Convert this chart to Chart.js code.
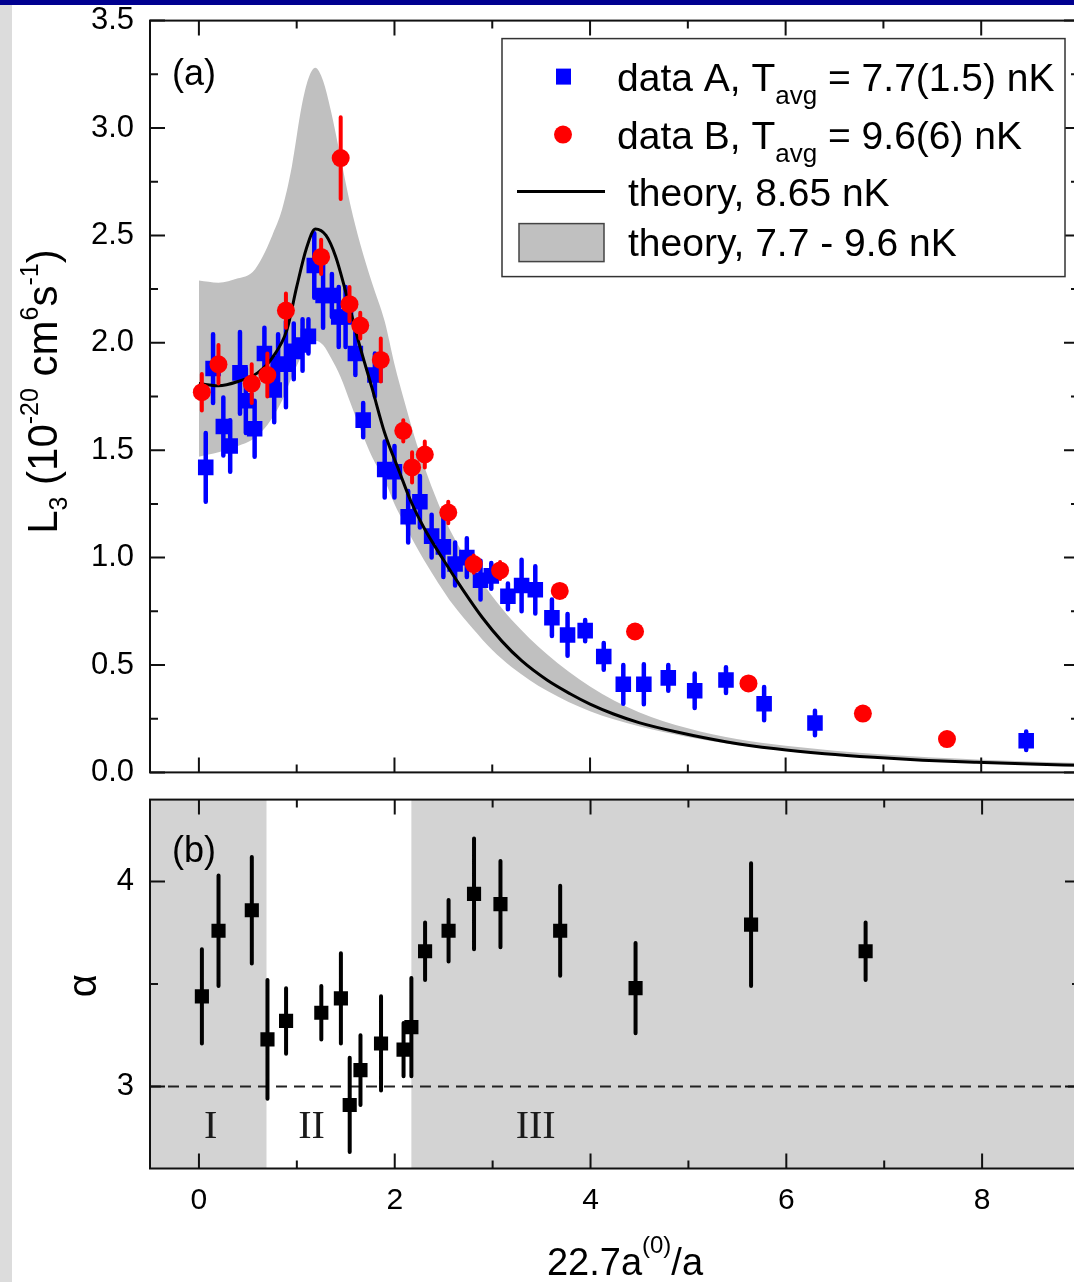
<!DOCTYPE html>
<html>
<head>
<meta charset="utf-8">
<script src="https://cdn.jsdelivr.net/npm/chart.js@4.4.1/dist/chart.umd.min.js"></script>
<style>
  html, body { margin: 0; padding: 0; background: #fff; width: 1074px; height: 1282px; overflow: hidden; }
  #sideBar { position: absolute; left: 0; top: 0; width: 12px; height: 1282px; background: #dcdcdc; }
  #topBar { position: absolute; left: 0; top: 0; width: 1074px; height: 5px; background: #000090; z-index: 2; }
  .box { position: absolute; left: 0; }
</style>
</head>
<body>
<div id="sideBar"></div>
<div id="topBar"></div>
<div class="box" style="top:-14px"><canvas id="l3Chart" width="1090" height="821"></canvas></div>
<div class="box" style="top:765px"><canvas id="alphaChart" width="1090" height="517"></canvas></div>
<script>
// ---- data ----
// panel (a): data A (blue squares)
const aX = [0.07, 0.145, 0.25, 0.32, 0.42, 0.48, 0.57, 0.67, 0.77, 0.81, 0.89, 0.97, 1.06, 1.12, 1.18, 1.27, 1.36, 1.43, 1.50, 1.60, 1.68, 1.80, 1.90, 2.00, 2.14, 2.26, 2.38, 2.50, 2.62, 2.74, 2.88, 2.99, 3.16, 3.30, 3.44, 3.61, 3.77, 3.95, 4.14, 4.34, 4.55, 4.80, 5.07, 5.39, 5.78, 6.30, 8.46];
const aY = [1.42, 1.88, 1.61, 1.52, 1.86, 1.73, 1.60, 1.95, 1.78, 1.90, 1.90, 1.96, 1.99, 2.03, 2.36, 2.22, 2.22, 2.12, 2.12, 1.95, 1.64, 1.85, 1.41, 1.40, 1.19, 1.26, 1.10, 1.05, 0.97, 1.00, 0.895, 0.915, 0.82, 0.87, 0.85, 0.72, 0.64, 0.66, 0.54, 0.41, 0.41, 0.44, 0.38, 0.43, 0.32, 0.23, 0.147];
const aErr = [0.16, 0.16, 0.135, 0.12, 0.19, 0.15, 0.13, 0.12, 0.15, 0.14, 0.2, 0.13, 0.12, 0.08, 0.15, 0.15, 0.1, 0.14, 0.14, 0.1, 0.08, 0.1, 0.13, 0.12, 0.12, 0.12, 0.10, 0.14, 0.10, 0.09, 0.09, 0.06, 0.06, 0.12, 0.11, 0.085, 0.097, 0.05, 0.062, 0.09, 0.093, 0.06, 0.08, 0.06, 0.077, 0.057, 0.043];
// panel (a): data B (red circles)
const bX = [0.03, 0.20, 0.54, 0.70, 0.89, 1.25, 1.45, 1.54, 1.65, 1.86, 2.09, 2.18, 2.31, 2.55, 2.81, 3.08, 3.69, 4.46, 5.62, 6.79, 7.65];
const bY = [1.77, 1.90, 1.81, 1.85, 2.15, 2.40, 2.86, 2.18, 2.08, 1.92, 1.59, 1.42, 1.48, 1.21, 0.97, 0.94, 0.845, 0.656, 0.414, 0.274, 0.155];
const bErr = [0.085, 0.09, 0.09, 0.10, 0.08, 0.08, 0.19, 0.08, 0.06, 0.10, 0.05, 0.07, 0.06, 0.05, 0.04, 0.04, 0.03, 0.03, 0.03, 0.03, 0.03];
// theory, 8.65 nK
const theoryX = [0.0, 0.2, 0.4, 0.6, 0.75, 0.9, 1.0, 1.1, 1.19, 1.3, 1.4, 1.5, 1.63, 1.77, 1.9, 2.05, 2.17, 2.3, 2.5, 2.7, 2.9, 3.1, 3.3, 3.56, 3.8, 4.0, 4.24, 4.5, 4.9, 5.4, 5.9, 6.4, 6.9, 7.4, 7.95, 8.5, 9.0];
const theoryY = [1.81, 1.80, 1.82, 1.86, 1.93, 2.06, 2.26, 2.44, 2.53, 2.50, 2.40, 2.24, 2.01, 1.79, 1.58, 1.40, 1.26, 1.14, 0.99, 0.85, 0.72, 0.61, 0.52, 0.43, 0.365, 0.318, 0.272, 0.232, 0.187, 0.142, 0.110, 0.087, 0.070, 0.057, 0.047, 0.039, 0.033];
// theory band, 7.7 - 9.6 nK
const bandX = [0, 0.2, 0.4, 0.55, 0.65, 0.75, 0.85, 0.95, 1.05, 1.12, 1.19, 1.27, 1.35, 1.45, 1.55, 1.65, 1.77, 1.9, 2.0, 2.1, 2.2, 2.3, 2.45, 2.6, 2.8, 3.0, 3.2, 3.56, 4.0, 4.5, 5.0, 5.5, 6.0, 7.0, 8.0, 9.0];
const bandUpper = [2.29, 2.28, 2.30, 2.33, 2.40, 2.50, 2.62, 2.82, 3.10, 3.23, 3.28, 3.22, 3.08, 2.86, 2.64, 2.46, 2.28, 2.10, 1.90, 1.73, 1.57, 1.43, 1.25, 1.10, 0.95, 0.82, 0.71, 0.55, 0.40, 0.28, 0.205, 0.155, 0.124, 0.083, 0.059, 0.044];
const bandLower = [1.47, 1.49, 1.52, 1.55, 1.59, 1.65, 1.73, 1.84, 1.94, 1.99, 2.01, 1.99, 1.93, 1.84, 1.72, 1.60, 1.47, 1.36, 1.25, 1.16, 1.07, 0.99, 0.88, 0.78, 0.67, 0.57, 0.49, 0.38, 0.285, 0.215, 0.165, 0.128, 0.102, 0.066, 0.046, 0.034];
// panel (b): exponent alpha
const alphaX = [0.03, 0.20, 0.54, 0.70, 0.89, 1.25, 1.45, 1.54, 1.65, 1.86, 2.09, 2.17, 2.31, 2.55, 2.81, 3.08, 3.69, 4.46, 5.64, 6.81];
const alphaY = [3.44, 3.76, 3.86, 3.23, 3.32, 3.36, 3.43, 2.91, 3.08, 3.21, 3.18, 3.29, 3.66, 3.76, 3.94, 3.89, 3.76, 3.48, 3.79, 3.66];
const alphaErr = [0.23, 0.27, 0.26, 0.29, 0.16, 0.13, 0.22, 0.23, 0.17, 0.23, 0.13, 0.24, 0.14, 0.15, 0.27, 0.21, 0.22, 0.22, 0.30, 0.14];
const alphaRef = 3;
const regionIEnd = 0.69;
const regionIIIStart = 2.17;
const regionLabels = ["I", "II", "III"];
const regionLabelX = [0.12, 1.15, 3.44];

// ticks
const xMajorTicks = [0, 2, 4, 6, 8];
const xMinorTicks = [1, 3, 5, 7];
const l3MajorTicks = [0, 0.5, 1.0, 1.5, 2.0, 2.5, 3.0, 3.5];
const l3MinorTicks = [0.25, 0.75, 1.25, 1.75, 2.25, 2.75, 3.25];
const alphaMajorTicks = [3, 4];
const alphaMinorTicks = [3.5];

const FONT = "'Liberation Sans', Arial, sans-serif";
const SERIF = "'Liberation Serif', 'Times New Roman', serif";

function pts(xs, ys) {
  return xs.map((x, i) => ({ x: x, y: ys[i] }));
}

// texto con sub/superíndices: [texto, tamaño, desplazamiento vertical]
function drawRich(ctx, parts, x, y, align) {
  let w = 0;
  parts.forEach((p) => {
    ctx.font = p[1] + "px " + FONT;
    w += ctx.measureText(p[0]).width;
  });
  let cx = align === "center" ? x - w / 2 : x;
  parts.forEach((p) => {
    ctx.font = p[1] + "px " + FONT;
    ctx.fillText(p[0], cx, y + (p[2] || 0));
    cx += ctx.measureText(p[0]).width;
  });
}

// marco con marcas hacia dentro en los cuatro lados
const framePlugin = {
  id: "frame",
  afterDatasetsDraw(chart, args, opts) {
    const { ctx, chartArea: a } = chart;
    const x = chart.scales.x, y = chart.scales.y;
    ctx.save();
    ctx.strokeStyle = "#111";
    ctx.lineWidth = 2;
    ctx.beginPath();
    const tx = (v, len) => {
      const px = x.getPixelForValue(v);
      ctx.moveTo(px, a.top); ctx.lineTo(px, a.top + len);
      ctx.moveTo(px, a.bottom); ctx.lineTo(px, a.bottom - len);
    };
    const ty = (v, len) => {
      const py = y.getPixelForValue(v);
      ctx.moveTo(a.left, py); ctx.lineTo(a.left + len, py);
      ctx.moveTo(a.right, py); ctx.lineTo(a.right - len, py);
    };
    opts.xMajor.forEach((v) => tx(v, 15));
    opts.xMinor.forEach((v) => tx(v, 8));
    opts.yMajor.forEach((v) => ty(v, 15));
    opts.yMinor.forEach((v) => ty(v, 8));
    ctx.stroke();
    ctx.strokeRect(a.left, a.top, a.right - a.left, a.bottom - a.top);
    ctx.restore();
  },
};

// barras de error verticales, antes de cada serie de puntos
const errorBarPlugin = {
  id: "errorBars",
  beforeDatasetDraw(chart, args) {
    const ds = chart.data.datasets[args.index];
    if (!ds.errors) return;
    const { ctx } = chart;
    const x = chart.scales.x, y = chart.scales.y;
    ctx.save();
    ctx.strokeStyle = ds.errColor;
    ctx.lineWidth = ds.errWidth;
    ctx.lineCap = "round";
    ctx.beginPath();
    ds.data.forEach((p, i) => {
      const px = x.getPixelForValue(p.x);
      ctx.moveTo(px, y.getPixelForValue(p.y - ds.errors[i]));
      ctx.lineTo(px, y.getPixelForValue(p.y + ds.errors[i]));
    });
    ctx.stroke();
    ctx.restore();
  },
};

// leyenda y rótulos del panel (a)
const l3TextPlugin = {
  id: "l3Text",
  afterDraw(chart) {
    const { ctx, chartArea: a } = chart;
    const oy = a.top - 19; // desplazamiento del lienzo respecto a la página
    ctx.save();
    ctx.fillStyle = "#000";
    ctx.textBaseline = "alphabetic";
    ctx.font = "36px " + FONT;
    ctx.fillText("(a)", a.left + 22, a.top + 64);

    // título del eje y
    ctx.save();
    ctx.translate(57, 390 + oy);
    ctx.rotate(-Math.PI / 2);
    drawRich(ctx, [["L", 42], ["3", 25, 10], [" (10", 42], ["-20", 25, -19], [" cm", 42], ["6", 25, -19], ["s", 42], ["-1", 25, -19], [")", 42]], 0, 0, "center");
    ctx.restore();

    // leyenda
    ctx.translate(0, oy);
    ctx.fillStyle = "#fff";
    ctx.fillRect(502, 37, 563, 238);
    ctx.strokeStyle = "#333";
    ctx.lineWidth = 1.5;
    ctx.strokeRect(502, 37, 563, 238);
    ctx.fillStyle = "#0000ff";
    ctx.fillRect(556, 67, 15, 16);
    ctx.fillStyle = "#ff0000";
    ctx.beginPath();
    ctx.arc(563, 133, 9, 0, Math.PI * 2);
    ctx.fill();
    ctx.strokeStyle = "#000";
    ctx.lineWidth = 3;
    ctx.beginPath();
    ctx.moveTo(517, 190); ctx.lineTo(605, 190);
    ctx.stroke();
    ctx.fillStyle = "#c0c0c0";
    ctx.fillRect(519, 222, 85, 38);
    ctx.strokeStyle = "#444";
    ctx.lineWidth = 1.5;
    ctx.strokeRect(519, 222, 85, 38);
    ctx.fillStyle = "#000";
    drawRich(ctx, [["data A, T", 39], ["avg", 26, 13], [" = 7.7(1.5) nK", 39]], 617, 89);
    drawRich(ctx, [["data B, T", 39], ["avg", 26, 13], [" = 9.6(6) nK", 39]], 617, 147);
    drawRich(ctx, [["theory, 8.65 nK", 39]], 628, 204);
    drawRich(ctx, [["theory, 7.7 - 9.6 nK", 39]], 628, 254);
    ctx.restore();
  },
};

// sombreado de regiones y línea de referencia del panel (b)
const alphaBackPlugin = {
  id: "alphaBack",
  beforeDatasetsDraw(chart) {
    const { ctx, chartArea: a } = chart;
    const x = chart.scales.x, y = chart.scales.y;
    ctx.save();
    ctx.fillStyle = "#d3d3d3";
    const x1 = x.getPixelForValue(regionIEnd);
    const x2 = x.getPixelForValue(regionIIIStart);
    ctx.fillRect(a.left, a.top, x1 - a.left, a.bottom - a.top);
    ctx.fillRect(x2, a.top, a.right - x2, a.bottom - a.top);
    const y3 = y.getPixelForValue(alphaRef);
    ctx.strokeStyle = "#222";
    ctx.lineWidth = 2;
    ctx.setLineDash([11, 7]);
    ctx.beginPath();
    ctx.moveTo(a.left, y3);
    ctx.lineTo(a.right, y3);
    ctx.stroke();
    ctx.setLineDash([]);
    ctx.fillStyle = "#1a1a1a";
    ctx.font = "40px " + SERIF;
    ctx.textAlign = "center";
    ctx.textBaseline = "middle";
    regionLabels.forEach((t, i) => {
      ctx.fillText(t, x.getPixelForValue(regionLabelX[i]), y.getPixelForValue(2.8));
    });
    ctx.restore();
  },
  afterDraw(chart) {
    const { ctx, chartArea: a } = chart;
    ctx.save();
    ctx.fillStyle = "#000";
    ctx.font = "36px " + FONT;
    ctx.textBaseline = "alphabetic";
    ctx.fillText("(b)", a.left + 22, a.top + 62);
    ctx.save();
    ctx.translate(85, a.top + 186);
    ctx.rotate(-Math.PI / 2);
    ctx.textAlign = "center";
    ctx.textBaseline = "middle";
    ctx.font = "40px " + FONT;
    ctx.fillText("α", 0, 0);
    ctx.restore();
    drawRich(ctx, [["22.7a", 38], ["(0)", 24, -22], ["/a", 38]], 625, a.bottom + 106, "center");
    ctx.restore();
  },
};

const commonY = (min, max, majors) => ({
  min: min,
  max: max,
  afterBuildTicks: (s) => { s.ticks = majors.map((v) => ({ value: v })); },
  ticks: { color: "#000", font: { family: FONT, size: 31 }, padding: 16 },
  grid: { display: false, drawTicks: false },
  border: { display: false },
  afterFit: (s) => { s.width = 150; },
});

// ---- panel (a) ----
new Chart(document.getElementById("l3Chart"), {
  type: "scatter",
  data: {
    datasets: [
      {
        type: "line", label: "band upper", data: pts(bandX, bandUpper),
        borderWidth: 0, pointRadius: 0, fill: "+1", backgroundColor: "#c0c0c0",
        cubicInterpolationMode: "monotone", order: 5,
      },
      {
        type: "line", label: "band lower", data: pts(bandX, bandLower),
        borderWidth: 0, pointRadius: 0, fill: false,
        cubicInterpolationMode: "monotone", order: 5,
      },
      {
        label: "data A", data: pts(aX, aY), pointStyle: "rect", pointRadius: 11,
        backgroundColor: "#0000ff", borderWidth: 0,
        errors: aErr, errColor: "#0000ff", errWidth: 4.5, order: 3,
      },
      {
        type: "line", label: "theory", data: pts(theoryX, theoryY),
        borderColor: "#000", borderWidth: 3, pointRadius: 0, fill: false,
        cubicInterpolationMode: "monotone", order: 2,
      },
      {
        label: "data B", data: pts(bX, bY), pointStyle: "circle", pointRadius: 9,
        backgroundColor: "#ff0000", borderWidth: 0,
        errors: bErr, errColor: "#ff0000", errWidth: 4, order: 1,
      },
    ],
  },
  options: {
    responsive: false,
    animation: false,
    events: [],
    layout: { padding: { top: 5, right: 6, bottom: 1, left: 0 } },
    plugins: {
      legend: { display: false },
      tooltip: { enabled: false },
      frame: { xMajor: xMajorTicks, xMinor: xMinorTicks, yMajor: l3MajorTicks, yMinor: l3MinorTicks },
    },
    scales: {
      x: { type: "linear", min: -0.5, max: 9, display: false },
      y: Object.assign(commonY(0, 3.5, l3MajorTicks), {
        ticks: { color: "#000", font: { family: FONT, size: 31 }, padding: 16, callback: (v) => v.toFixed(1) },
      }),
    },
  },
  plugins: [framePlugin, errorBarPlugin, l3TextPlugin],
});

// ---- panel (b) ----
new Chart(document.getElementById("alphaChart"), {
  type: "scatter",
  data: {
    datasets: [
      {
        label: "alpha", data: pts(alphaX, alphaY), pointStyle: "rect", pointRadius: 10,
        backgroundColor: "#000", borderWidth: 0,
        errors: alphaErr, errColor: "#000", errWidth: 4,
      },
    ],
  },
  options: {
    responsive: false,
    animation: false,
    events: [],
    layout: { padding: { top: 14, right: 6, bottom: 0, left: 0 } },
    plugins: {
      legend: { display: false },
      tooltip: { enabled: false },
      frame: { xMajor: xMajorTicks, xMinor: xMinorTicks, yMajor: alphaMajorTicks, yMinor: alphaMinorTicks },
    },
    scales: {
      x: {
        type: "linear", min: -0.5, max: 9,
        afterBuildTicks: (s) => { s.ticks = xMajorTicks.map((v) => ({ value: v })); },
        ticks: { color: "#000", font: { family: FONT, size: 30 }, padding: 14 },
        grid: { display: false, drawTicks: false },
        border: { display: false },
        afterFit: (s) => { s.height = 113.5; },
      },
      y: commonY(2.6, 4.4, alphaMajorTicks),
    },
  },
  plugins: [alphaBackPlugin, framePlugin, errorBarPlugin],
});
</script>
</body>
</html>
